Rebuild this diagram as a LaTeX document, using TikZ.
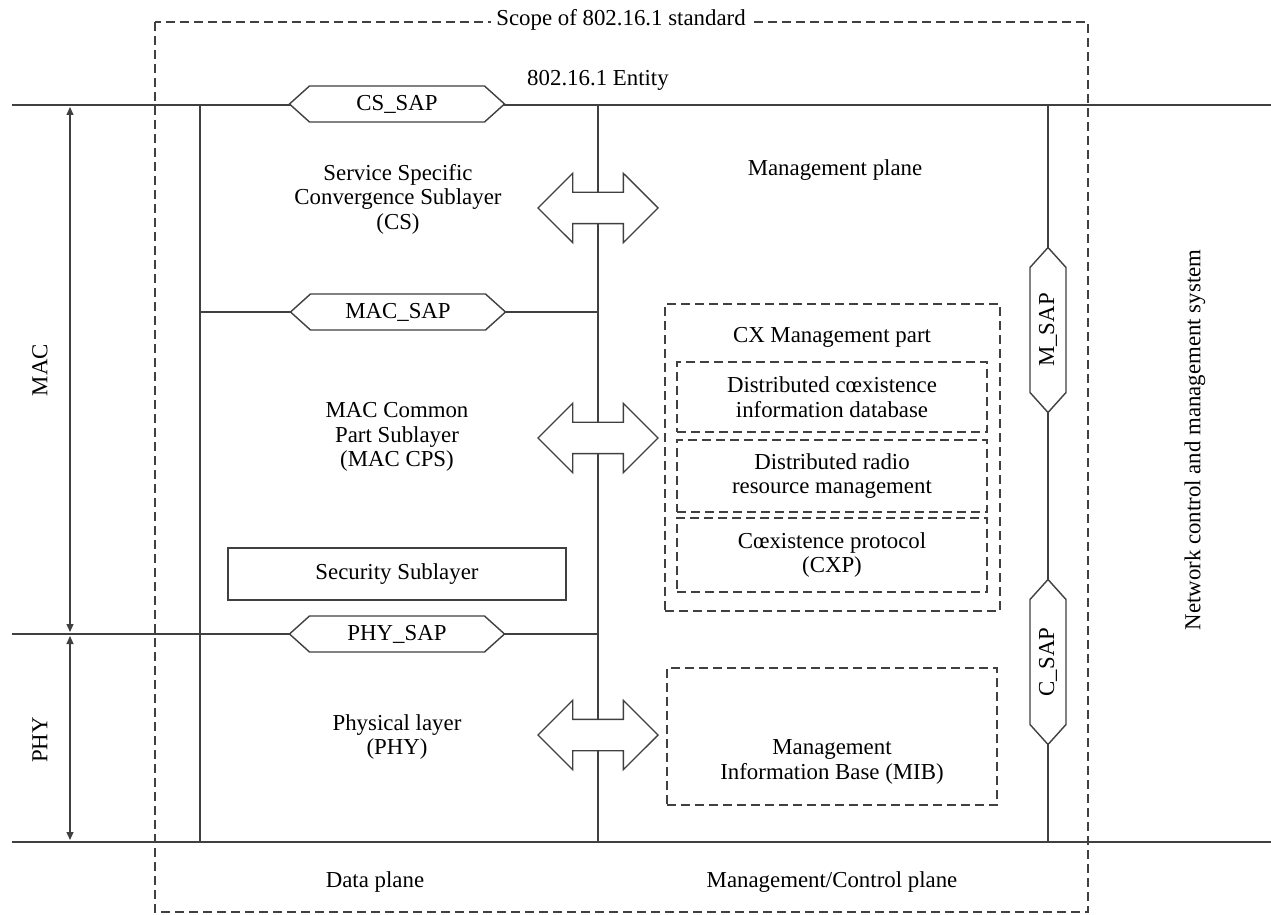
\documentclass[tikz,border=0pt]{standalone}
\usepackage{fontspec}
\setmainfont{Liberation Serif}
\usetikzlibrary{shapes.symbols, shapes.arrows, arrows.meta}

\begin{document}
\begin{tikzpicture}[x=0.2mm, y=-0.2mm, font=\fontsize{13}{14}\selectfont,
  line/.style={draw=black!75, line width=0.8pt},
  dashbox/.style={draw=black!75, line width=0.8pt, dash pattern=on 1.8mm off 1mm},
  sap/.style={signal, signal to=west and east, signal pointer angle=84, draw=black!75, line width=0.8pt, fill=white, minimum width=43mm, minimum height=7.2mm, inner sep=0pt},
  dblarrow/.style={double arrow, draw=black!75, line width=0.8pt, fill=white, text height=3mm, text depth=3mm, minimum width=13.6mm, minimum height=24mm, double arrow head extend=3.8mm, inner sep=0pt},
  dim/.style={draw=black!75, line width=0.6pt, {Triangle[length=1.6mm,width=1.4mm]}-{Triangle[length=1.6mm,width=1.4mm]}},
  txt/.style={align=center, inner sep=0pt}]

\useasboundingbox (0,0) rectangle (1271,915);

% scope of the standard
\draw[dashbox] (155,22) rectangle (1088,912);
\node[fill=white, inner xsep=3pt] (scope) at (621,20) {Scope of 802.16.1 standard};
\node (entity) at (598,80) {802.16.1 Entity};

% layer lines
\coordinate (topL) at (12,105);
\coordinate (topR) at (1271,105);
\coordinate (midL) at (12,634);
\coordinate (midR) at (598,634);
\coordinate (botL) at (12,842);
\coordinate (botR) at (1271,842);
\draw[line] (topL) -- (topR);
\draw[line] (midL) -- (midR);
\draw[line] (botL) -- (botR);
\draw[line] (200,105) -- (200,842);
\draw[line] (598,105) -- (598,842);
\draw[line] (1048,105) -- (1048,842);
\draw[line] (200,312) -- (598,312);

% service access points
\node[sap] (cssap) at (397,104) {CS\_SAP};
\node[sap] (macsap) at (398,312) {MAC\_SAP};
\node[sap] (physap) at (397,634) {PHY\_SAP};
\node[sap, rotate=90, minimum width=33mm] (msap) at (1048,330) {M\_SAP};
\node[sap, rotate=90, minimum width=33mm] (csap) at (1048,662) {C\_SAP};

% data plane
\node[txt] (cs) at (398,199) {Service Specific\\Convergence Sublayer\\(CS)};
\node[txt] (cps) at (397,437) {MAC Common\\Part Sublayer\\(MAC CPS)};
\node[line, minimum width=67.6mm, minimum height=10.4mm] (sec) at (397,574) {Security Sublayer};
\node[txt] (phy) at (397,737) {Physical layer\\(PHY)};

% interfaces to management plane
\node[dblarrow] (arr1) at (598,208) {};
\node[dblarrow] (arr2) at (598,438) {};
\node[dblarrow] (arr3) at (598,735) {};

% management plane
\node (mgmt) at (835,170) {Management plane};
\node[dashbox, minimum width=67mm, minimum height=61.4mm] (cx) at (832.5,457.5) {};
\node (cxtxt) at (832,337) {CX Management part};
\node[dashbox, txt, minimum width=62mm, minimum height=14mm] (cdis) at (832,397) {Distributed cœxistence\\information database};
\node[dashbox, txt, minimum width=62mm, minimum height=14.4mm] (drrm) at (832,476) {Distributed radio\\resource management};
\node[dashbox, txt, minimum width=62mm, minimum height=14.8mm] (cxp) at (832,555) {Cœxistence protocol\\(CXP)};
\node[dashbox, minimum width=66mm, minimum height=27.4mm] (mib) at (832,736.5) {};
\node[txt] (mibtxt) at (832,762) {Management\\Information Base (MIB)};

% layer extents
\draw[dim] (70,107) -- (70,632);
\draw[dim] (70,636) -- (70,840);
\node[rotate=90] (maclbl) at (40,370) {MAC};
\node[rotate=90] (phylbl) at (40,740) {PHY};

% bottom and right labels
\node (dplane) at (375,882) {Data plane};
\node (cplane) at (832,882) {Management/Control plane};
\node[rotate=90] (nms) at (1195,440) {Network control and management system};

\end{tikzpicture}
\end{document}
